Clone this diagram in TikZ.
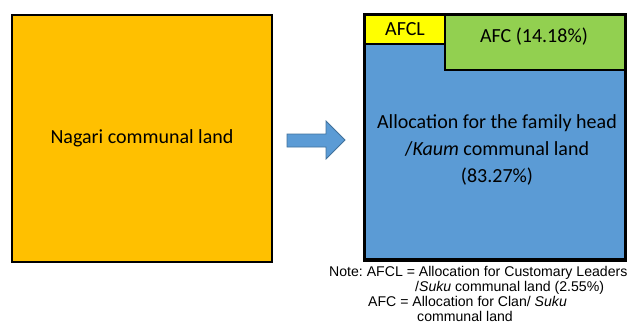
\documentclass[tikz,border=0pt]{standalone}
\usepackage{fontspec}
\setmainfont{Carlito}
\newfontfamily\arialfont{Liberation Sans}
\definecolor{nagarifill}{HTML}{FFC000}
\definecolor{familyfill}{HTML}{5B9BD5}
\definecolor{afcfill}{HTML}{92D050}
\definecolor{afclfill}{HTML}{FFFF00}
\definecolor{arrowedge}{HTML}{41719C}
\frenchspacing

\begin{document}
\begin{tikzpicture}
[x=1pt,y=-1pt,%
  every node/.style={inner sep=0pt,font=\fontsize{20}{27}\selectfont},%
  landbox/.style={draw=black,line width=2.5pt},%
  notetext/.style={anchor=base west,font=\arialfont\fontsize{14.1}{16}\selectfont}]
\useasboundingbox (0,0) rectangle (627,324);
\node[landbox,fill=nagarifill,minimum width=260pt,minimum height=247pt] (nagari) at (142,138.5) {Nagari communal land};
\draw[fill=familyfill,draw=arrowedge,line width=0.8pt]
  (287,134) -- (326,134) -- (326,121) -- (345,140) -- (326,159) -- (326,147) -- (287,147) -- cycle;
\node[landbox,fill=familyfill,minimum width=260pt,minimum height=244pt] (family) at (495,137) {};
\node[landbox,fill=afclfill,minimum width=80pt,minimum height=29pt,anchor=north west] (afcl) at (family.north west) {AFCL};
\node[landbox,fill=afcfill,minimum width=180pt,minimum height=55pt,anchor=north east] (afc) at (family.north east) {};
\draw[line width=2.5pt] (family.north west) rectangle (family.south east);
\node (afctext) at (534,37) {AFC (14.18\%)};
\node[align=center] (familytext) at (497,150) {Allocation for the family head\\/\textit{Kaum} communal land\\(83.27\%)};
\node[notetext] (note1) at (329,276) {Note: AFCL = Allocation for Customary Leaders};
\node[notetext] (note2) at (415,291) {/\textit{Suku} communal land (2.55\%)};
\node[notetext] (note3) at (368,306) {AFC = Allocation for Clan/ \textit{Suku}};
\node[notetext] (note4) at (417,321) {communal land};
\end{tikzpicture}
\end{document}
